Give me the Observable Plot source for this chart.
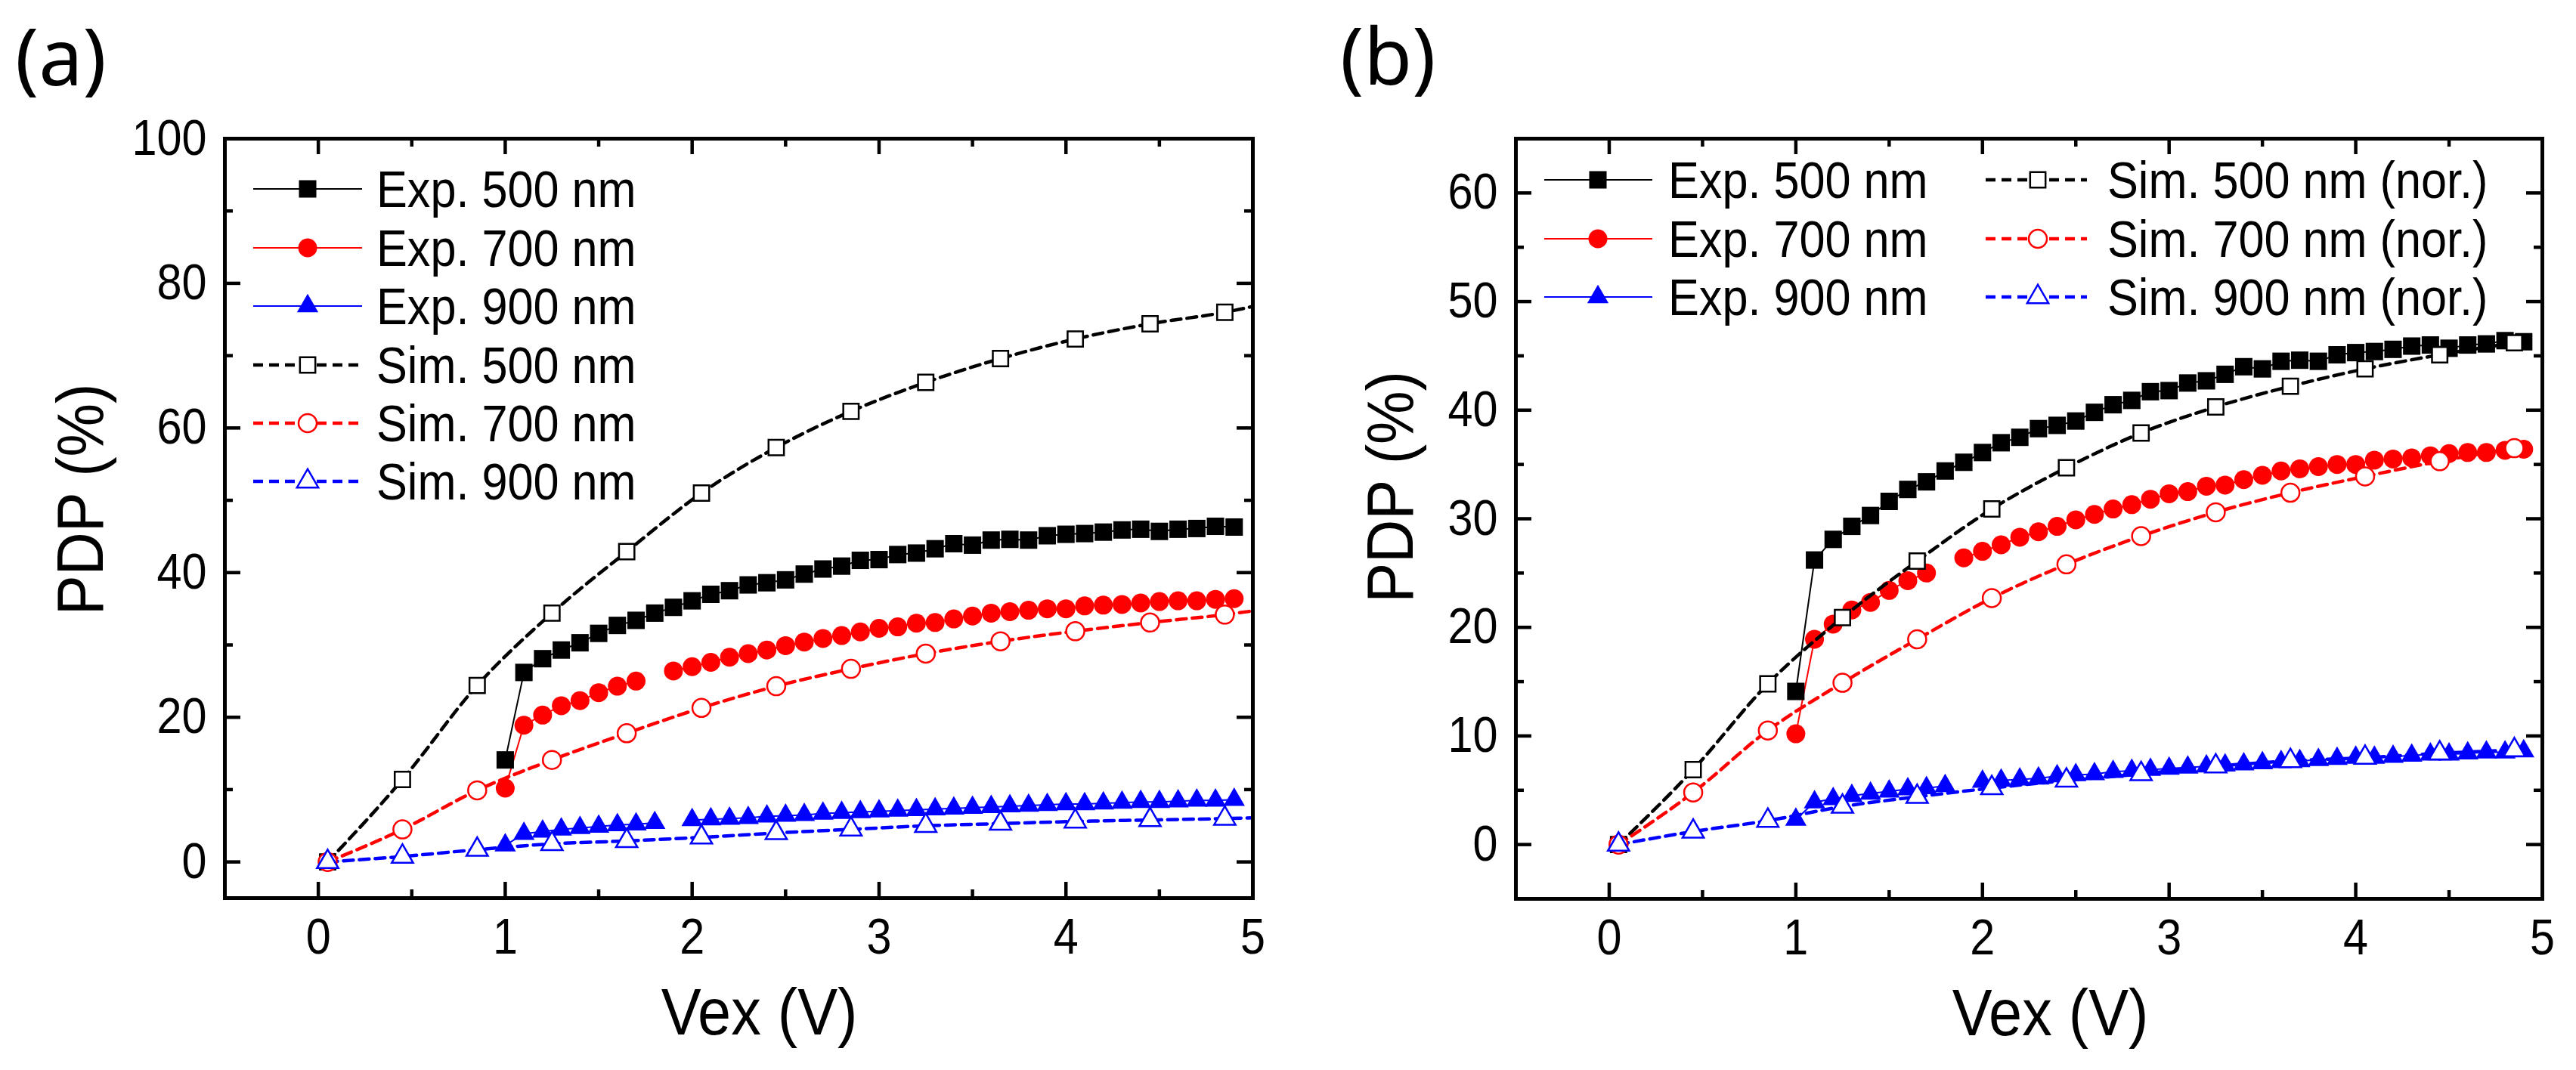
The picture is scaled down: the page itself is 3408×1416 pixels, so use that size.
<!DOCTYPE html>
<html>
<head>
<meta charset="utf-8">
<script src="https://cdn.jsdelivr.net/npm/d3@7"></script>
<script src="https://cdn.jsdelivr.net/npm/@observablehq/plot@0.6"></script>
<style>
  html, body { margin: 0; padding: 0; background: #fff; }
  #page { position: relative; width: 3408px; height: 1416px; display: flex; background: #fff; }
  #page > svg.panel { flex: 0 0 auto; }
  #overlay { position: absolute; left: 0; top: 0; pointer-events: none; }
</style>
</head>
<body>
<div id="page"></div>
<script>
// ---------------- data ----------------
const expV = [1.0,1.1,1.2,1.3,1.4,1.5,1.6,1.7,1.8,1.9,2.0,2.1,2.2,2.3,2.4,2.5,2.6,2.7,2.8,2.9,
              3.0,3.1,3.2,3.3,3.4,3.5,3.6,3.7,3.8,3.9,4.0,4.1,4.2,4.3,4.4,4.5,4.6,4.7,4.8,4.9];
const exp500 = [14.1,26.2,28.1,29.3,30.3,31.6,32.7,33.4,34.4,35.2,36.1,37.0,37.5,38.3,38.6,39.0,39.8,40.5,40.9,41.7,
                41.8,42.5,42.7,43.3,44.0,43.8,44.5,44.6,44.5,45.1,45.3,45.4,45.6,45.9,46.0,45.7,46.0,46.1,46.4,46.3];
const exp700 = [10.2,18.9,20.3,21.6,22.3,23.4,24.3,25.0,null,26.4,27.0,27.6,28.3,28.8,29.3,29.9,30.4,30.9,31.3,31.8,
                32.3,32.5,33.0,33.1,33.6,34.0,34.4,34.6,34.8,35.0,35.0,35.4,35.5,35.6,35.8,36.0,36.1,36.1,36.3,36.4];
const exp900 = [2.3,3.9,4.2,4.5,4.7,4.9,5.1,5.2,5.4,null,5.8,5.9,6.0,6.1,6.3,6.4,6.5,6.7,6.8,6.9,
                7.0,7.1,7.2,7.3,7.4,7.5,7.6,7.7,7.8,7.9,8.0,8.0,8.1,8.2,8.3,8.3,8.4,8.5,8.5,8.6];

// panel (a): simulated (last point = curve end at the frame edge, no marker)
const simVa   = [0.05,0.45,0.85,1.25,1.65,2.05,2.45,2.85,3.25,3.65,4.05,4.45,4.85,5.0];
const sim500a = [0,11.4,24.4,34.4,42.9,51.0,57.3,62.3,66.3,69.6,72.3,74.4,76.0,76.8];
const sim700a = [0,4.5,9.9,14.1,17.8,21.3,24.3,26.7,28.8,30.5,31.9,33.1,34.2,34.7];
const sim900a = [0,0.75,1.7,2.5,2.9,3.4,4.0,4.5,5.0,5.3,5.6,5.8,6.0,6.1];

// panel (b): simulated, normalised
const simVb   = [0.05,0.45,0.85,1.25,1.65,2.05,2.45,2.85,3.25,3.65,4.05,4.45,4.85];
const sim500b = [0,6.9,14.8,20.9,26.1,30.9,34.7,37.9,40.3,42.2,43.8,45.1,46.2];
const sim700b = [0,4.8,10.5,14.9,18.9,22.7,25.8,28.4,30.6,32.4,33.9,35.3,36.5];
const sim900b = [0,1.2,2.2,3.5,4.4,5.2,5.9,6.5,7.2,7.7,8.0,8.4,8.7];

const xTicks = [0,1,2,3,4,5];
const xMinor = [0.5,1.5,2.5,3.5,4.5];
const yTicksA = [0,20,40,60,80,100];
const yMinorA = [10,30,50,70,90];
const yTicksB = [0,10,20,30,40,50,60];
const yMinorB = [5,15,25,35,45,55];

const legendA = ["Exp. 500 nm","Exp. 700 nm","Exp. 900 nm","Sim. 500 nm","Sim. 700 nm","Sim. 900 nm"];
const legendB = ["Exp. 500 nm","Exp. 700 nm","Exp. 900 nm","Sim. 500 nm (nor.)","Sim. 700 nm (nor.)","Sim. 900 nm (nor.)"];
const colors  = ["#000000","#ff0000","#0000ff"];
const symbols = ["square","circle","triangle"];
const xLabel = "Vex (V)";
const yLabel = "PDP (%)";

// ---------------- style ----------------
const FONT = "'Liberation Sans', Arial, sans-serif";
const rFilled = [13, 12.5, 10.5];
const rOpen   = [11.5, 12, 10.5];
const DASH = "13,8";

function pts(xs, ys) { return xs.map((x, i) => ({x, y: ys[i]})); }

function makePanel(cfg) {
  const W = 1704, H = 1416;
  const fh = H - cfg.mt - cfg.mb;
  const fw = W - cfg.ml - cfg.mr;
  const tk = {stroke: "black", strokeWidth: 4.5};
  const MAJ = 21, MIN = 11;
  const marks = [];
  // inward ticks on all four sides
  marks.push(Plot.tickX(xTicks, {x: d => d, insetTop: fh - MAJ, ...tk}));
  marks.push(Plot.tickX(xTicks, {x: d => d, insetBottom: fh - MAJ, ...tk}));
  marks.push(Plot.tickX(xMinor, {x: d => d, insetTop: fh - MIN, ...tk}));
  marks.push(Plot.tickX(xMinor, {x: d => d, insetBottom: fh - MIN, ...tk}));
  marks.push(Plot.tickY(cfg.yTicks, {y: d => d, insetRight: fw - MAJ, ...tk}));
  marks.push(Plot.tickY(cfg.yTicks, {y: d => d, insetLeft: fw - MAJ, ...tk}));
  marks.push(Plot.tickY(cfg.yMinor, {y: d => d, insetRight: fw - MIN, ...tk}));
  marks.push(Plot.tickY(cfg.yMinor, {y: d => d, insetLeft: fw - MIN, ...tk}));
  marks.push(Plot.axisX({ticks: xTicks, tickSize: 0, tickPadding: 27, label: null, tickFormat: d => String(d)}));
  marks.push(Plot.axisY({ticks: cfg.yTicks, tickSize: 0, tickPadding: 24, label: null, tickFormat: d => String(d)}));
  // experimental
  const expS = [exp500, exp700, exp900];
  expS.forEach((ys, k) => marks.push(Plot.line(pts(expV, ys), {x: "x", y: "y", stroke: colors[k], strokeWidth: 2})));
  expS.forEach((ys, k) => marks.push(Plot.dot(pts(expV, ys), {x: "x", y: "y", symbol: symbols[k], r: rFilled[k], fill: colors[k], stroke: "none"})));
  // simulated
  cfg.sims.forEach((ys, k) => marks.push(Plot.line(pts(cfg.simV, ys), {x: "x", y: "y", stroke: colors[k], strokeWidth: 4.5, strokeDasharray: DASH, curve: "monotone-x"})));
  cfg.sims.forEach((ys, k) => marks.push(Plot.dot(pts(cfg.simV, ys), {x: "x", y: "y", filter: d => d.x < 4.95, symbol: symbols[k], r: rOpen[k], fill: "white", stroke: colors[k], strokeWidth: 2.5})));
  // frame
  marks.push(Plot.frame({stroke: "black", strokeWidth: 5}));
  // axis titles
  marks.push(Plot.text([xLabel], {text: d => d, frameAnchor: "bottom", textAnchor: "middle", lineAnchor: "middle",
    dx: cfg.xtDx, dy: 152, fontSize: 88, fill: "black"}));
  marks.push(Plot.text([yLabel], {text: d => d, frameAnchor: "left", textAnchor: "middle", lineAnchor: "middle",
    rotate: -90, dx: cfg.ytDx, dy: cfg.ytDy, fontSize: 88, fill: "black"}));

  return Plot.plot({
    width: W, height: H,
    marginLeft: cfg.ml, marginRight: cfg.mr, marginTop: cfg.mt, marginBottom: cfg.mb,
    x: {domain: [-0.5, 5]},
    y: {domain: cfg.yDomain},
    className: "panel",
    style: {fontFamily: FONT, fontSize: "66px", color: "black", background: "white", overflow: "visible"},
    marks
  });
}

const page = document.getElementById("page");
const svgA = makePanel({ml: 297, mr: 47, mt: 183, mb: 228, yDomain: [-5, 100], yTicks: yTicksA, yMinor: yMinorA,
  simV: simVa, sims: [sim500a, sim700a, sim900a], xtDx: 27, ytDx: -190, ytDy: -25});
const svgB = makePanel({ml: 301, mr: 45, mt: 183, mb: 227, yDomain: [-5, 65], yTicks: yTicksB, yMinor: yMinorB,
  simV: simVb, sims: [sim500b, sim700b, sim900b], xtDx: 28, ytDx: -165, ytDy: -42});
svgA.classList.add("panel"); svgB.classList.add("panel");
page.appendChild(svgA);
page.appendChild(svgB);

// ---------------- overlay: legends + panel letters ----------------
const ov = d3.select(page).append("svg").attr("id", "overlay")
  .attr("width", 3408).attr("height", 1416)
  .style("font-family", FONT);

const symMap = {square: d3.symbolSquare, circle: d3.symbolCircle, triangle: d3.symbolTriangle};

function legendRow(g, {x0, x1, xm, xt, y, k, sim, label}) {
  g.append("line").attr("x1", x0).attr("x2", x1).attr("y1", y).attr("y2", y)
    .attr("stroke", colors[k]).attr("stroke-width", sim ? 4.5 : 2)
    .attr("stroke-dasharray", sim ? DASH : null);
  const r = sim ? rOpen[k] : rFilled[k];
  g.append("path").attr("transform", `translate(${xm},${y})`)
    .attr("d", d3.symbol(symMap[symbols[k]], Math.PI * r * r)())
    .attr("fill", sim ? "white" : colors[k])
    .attr("stroke", sim ? colors[k] : "none").attr("stroke-width", 2.5);
  g.append("text").attr("x", xt).attr("y", y + 24).attr("font-size", 68).attr("fill", "black").text(label);
}

const gA = ov.append("g");
const rowsA = [250, 328, 405, 483, 560, 637];
legendA.forEach((lab, i) => legendRow(gA, {x0: 335, x1: 479, xm: 407, xt: 498, y: rowsA[i], k: i % 3, sim: i >= 3, label: lab}));

const gB = ov.append("g");
const rowsB = [238, 316, 393];
legendB.forEach((lab, i) => {
  const sim = i >= 3;
  legendRow(gB, sim
    ? {x0: 2627, x1: 2761, xm: 2696, xt: 2788, y: rowsB[i - 3], k: i % 3, sim, label: lab}
    : {x0: 2043, x1: 2186, xm: 2114, xt: 2207, y: rowsB[i], k: i % 3, sim, label: lab});
});

ov.append("text").attr("class", "nocompress").attr("x", 20).attr("y", 113)
  .attr("font-family", "'Noto Sans', 'Open Sans', sans-serif").attr("font-size", 104).text("(a)");
ov.append("text").attr("class", "nocompress").attr("x", 1773).attr("y", 112)
  .attr("font-family", "'Noto Sans', 'Open Sans', sans-serif").attr("font-size", 104).text("(b)");

// narrow the Arial-like lettering horizontally, as in the original figure
function compress(root, factor) {
  root.querySelectorAll("text").forEach(t => {
    if (t.classList.contains("nocompress")) return;
    const L = t.getComputedTextLength();
    if (L > 0) {
      t.setAttribute("textLength", (L * factor).toFixed(1));
      t.setAttribute("lengthAdjust", "spacingAndGlyphs");
    }
  });
}
compress(page, 0.9);
</script>
</body>
</html>
